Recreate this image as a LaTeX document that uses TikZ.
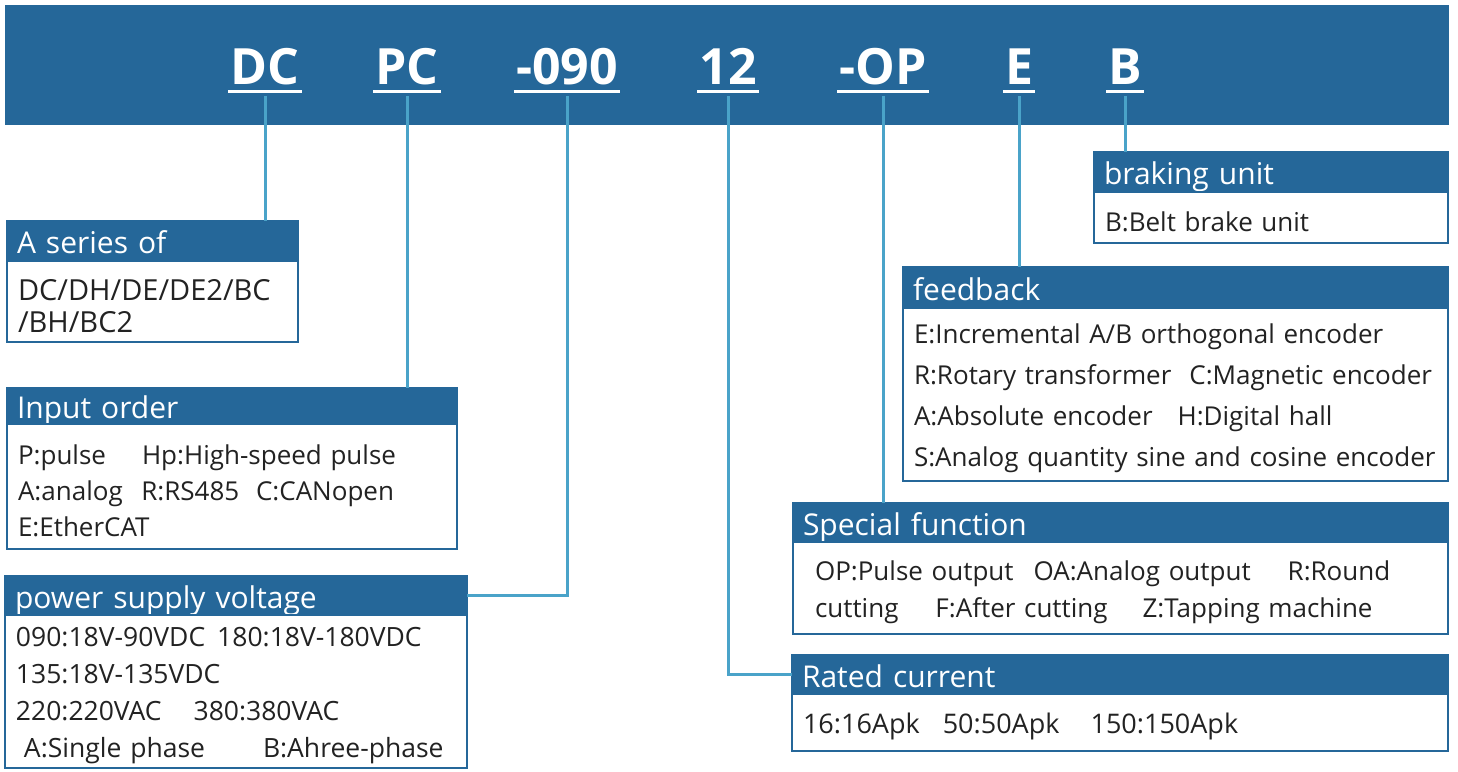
\documentclass[tikz,border=0pt]{standalone}
\usepackage{fontspec}
\setmainfont{Open Sans}
\usepackage{xcolor}
\usetikzlibrary{positioning}

\definecolor{dkblue}{HTML}{256799}
\definecolor{lnblue}{HTML}{4AA3C9}
\definecolor{txt}{HTML}{222222}

\begin{document}
\begin{tikzpicture}[
        x=1pt, y=-1pt,
        code/.style={text=white, anchor=base, inner xsep=2pt,
            font=\fontsize{50}{50}\selectfont\bfseries},
        uline/.style={white, line width=3pt},
        link/.style={lnblue, line width=3pt},
        head/.style={fill=dkblue, draw=dkblue, line width=2pt, text=white,
            anchor=north west, align=left, inner xsep=10pt, inner ysep=0pt,
            outer sep=0pt, text height=27pt, text depth=2pt,
            font=\fontsize{30}{30}\selectfont},
        body/.style={fill=white, draw=dkblue, line width=2pt, text=txt,
            align=left, inner xsep=11pt, inner ysep=0pt, outer sep=0pt,
            execute at begin node={\rule{0pt}{1.06em}}}
    ]
    \useasboundingbox (0,0) rectangle (1458,771);

    % code bar
    \node[fill=dkblue, anchor=north west, inner sep=0pt,
        minimum width=1444pt, minimum height=120pt] (bar) at (5,5) {};

    \node[code] (cDC) at (265,84) {DC};
    \node[code] (cPC) at (407,84) {PC};
    \node[code] (c090) at (567,84) {-090};
    \node[code] (c12) at (728,84) {12};
    \node[code] (cOP) at (883,84) {-OP};
    \node[code] (cE) at (1019,84) {E};
    \node[code] (cB) at (1125,84) {B};

    \foreach \c in {cDC,cPC,c090,c12,cOP,cE,cB}
        \draw[uline] ([yshift=-7pt]\c.base west) -- ([yshift=-7pt]\c.base east);

    % left column
    \node[head, text width=271pt, minimum height=40pt] (serH) at (7,221) {A series of};
    \node[body, text width=269pt, minimum height=81pt, below=0pt of serH,
        font=\fontsize{29}{32}\selectfont] (ser) {DC/DH/DE/DE2/BC\\/BH/BC2};

    \node[head, text width=430pt, minimum height=36pt] (inpH) at (7,388) {Input order};
    \node[body, text width=428pt, minimum height=125pt, below=0pt of inpH,
        font=\fontsize{26}{36}\selectfont] (inp)
        {P:pulse\hspace{36pt}Hp:High-speed pulse\\
         A:analog\hspace{10pt} R:RS485\hspace{8pt} C:CANopen\\
         E:EtherCAT};

    \node[head, text width=442pt, minimum height=39pt] (pwrH) at (5,576) {power supply voltage};
    \node[body, text width=440pt, minimum height=153pt, below=0pt of pwrH,
        font=\fontsize{26.5}{37}\selectfont] (pwr)
        {090:18V-90VDC\hspace{12pt}180:18V-180VDC\\
         135:18V-135VDC\\
         220:220VAC\hspace{32pt}380:380VAC\\
         \hspace*{8pt}A:Single phase\hspace{58pt}B:Ahree-phase};

    % right column
    \node[head, text width=334pt, minimum height=40pt] (brkH) at (1094,152) {braking unit};
    \node[body, text width=332pt, minimum height=51pt, below=0pt of brkH,
        font=\fontsize{26}{36}\selectfont] (brk) {B:Belt brake unit};

    \node[head, text width=525pt, minimum height=41pt] (fbkH) at (903,267) {feedback};
    \node[body, text width=523pt, minimum height=173pt, below=0pt of fbkH,
        font=\fontsize{26}{41}\selectfont] (fbk)
        {E:Incremental A/B orthogonal encoder\\
         R:Rotary transformer\hspace{18pt}C:Magnetic encoder\\
         A:Absolute encoder\hspace{25pt}H:Digital hall\\
         S:Analog quantity sine and cosine encoder};

    \node[head, text width=635pt, minimum height=39pt] (spfH) at (793,503) {Special function};
    \node[body, text width=611pt, inner xsep=22pt, minimum height=92pt, below=0pt of spfH,
        font=\fontsize{26}{37}\selectfont] (spf)
        {OP:Pulse output\hspace{20pt}OA:Analog output\hspace{37pt}R:Round\\
         cutting\hspace{37pt}F:After cutting\hspace{35pt}Z:Tapping machine};

    \node[head, text width=636pt, minimum height=39pt] (curH) at (792,655) {Rated current};
    \node[body, text width=634pt, minimum height=57pt, below=0pt of curH,
        font=\fontsize{27}{36}\selectfont] (cur)
        {16:16Apk\hspace{23pt}50:50Apk\hspace{31pt}150:150Apk};

    % connectors
    \draw[link] ([yshift=-12pt]cDC.base) -- (cDC.base |- serH.north);
    \draw[link] ([yshift=-12pt]cPC.base) -- (cPC.base |- inpH.north);
    \draw[link] ([yshift=-12pt]c090.base) |- (pwrH.east);
    \draw[link] ([yshift=-12pt]c12.base) |- (curH.west);
    \draw[link] ([yshift=-12pt]cOP.base) -- (cOP.base |- spfH.north);
    \draw[link] ([yshift=-12pt]cE.base) -- (cE.base |- fbkH.north);
    \draw[link] ([yshift=-12pt]cB.base) -- (cB.base |- brkH.north);

\end{tikzpicture}
\end{document}
